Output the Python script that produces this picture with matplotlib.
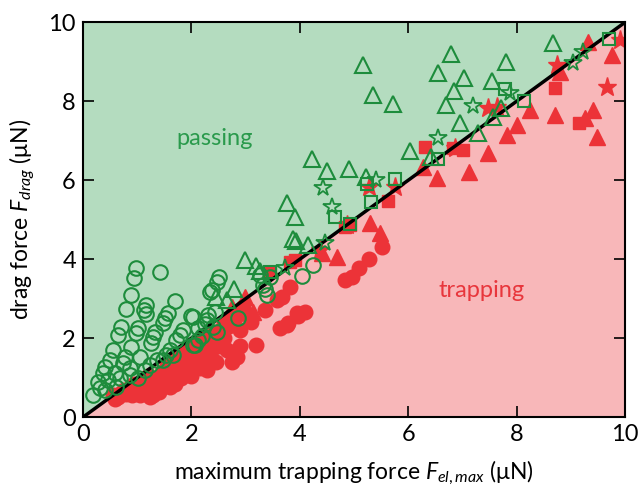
import numpy as np
import matplotlib.pyplot as plt

plt.rcParams["font.family"] = ["Lato", "DejaVu Sans"]
plt.rcParams["mathtext.fontset"] = "custom"
plt.rcParams["mathtext.it"] = "Lato:italic"
plt.rcParams["mathtext.rm"] = "Lato"

GREEN = "#1d8c3c"
RED = "#ec3338"
BG_GREEN = "#b4dcbf"
BG_RED = "#f8b7b9"

# trapping (red, filled)
red_circ_x = [0.55, 0.65, 0.7, 0.8, 0.81, 0.85, 0.9, 1.0, 1.0, 1.1, 1.15, 1.24, 1.2, 1.25, 1.3,
              1.35, 1.4, 1.45, 1.5, 1.55, 1.6, 1.6, 1.65, 1.7, 1.75, 1.8, 1.85, 1.9, 1.95, 2.0,
              2.03, 2.05, 2.1, 2.15, 2.2, 2.29, 2.25, 2.3, 2.35, 2.4, 2.5, 2.55, 2.6, 2.7, 2.75,
              2.84, 2.8, 2.9, 3.0, 3.1, 3.19, 3.36, 3.58, 3.63, 3.67, 3.76, 3.78, 3.82, 3.95, 3.97,
              4.1, 4.83, 4.96, 5.09, 5.28, 5.52,
              0.6, 0.75, 0.95, 1.05, 1.2, 1.3, 1.4, 1.55, 1.7, 1.75, 1.9, 2.0, 2.1, 2.2, 2.4,
              2.45, 2.6, 2.65, 2.95, 2.9]
red_circ_y = [0.55, 0.5, 0.62, 0.6, 0.61, 0.72, 0.55, 0.65, 0.8, 0.7, 0.9, 0.5, 0.6, 0.8, 1.0,
              0.75, 0.9, 1.1, 0.8, 1.0, 1.2, 0.76, 0.9, 1.1, 1.3, 1.0, 1.2, 1.4, 1.1, 1.3,
              1.62, 1.5, 1.6, 1.25, 1.45, 1.19, 1.7, 1.9, 1.55, 2.1, 1.8, 2.2, 2.0, 2.3, 1.39,
              1.52, 2.5, 2.2, 2.6, 2.4, 1.82, 2.71, 2.96, 2.25, 3.04, 2.33, 2.38, 3.29, 2.63, 2.56,
              2.66, 3.47, 3.54, 3.77, 4.0, 4.3,
              0.45, 0.7, 0.85, 0.55, 1.05, 0.55, 0.65, 1.35, 0.85, 1.55, 1.7, 1.05, 1.85, 2.0, 1.75,
              1.4, 2.4, 1.7, 2.8, 1.8]
red_tri_x = [9.32, 9.76, 8.8, 8.25, 8.71, 8.01, 7.82, 9.41, 9.26, 9.48, 7.47, 7.12, 6.53, 6.27,
             5.48, 5.3, 4.69, 4.41, 3.14, 2.99, 2.75]
red_tri_y = [9.49, 9.16, 8.73, 7.77, 7.65, 7.39, 7.14, 7.77, 7.57, 7.09, 6.68, 6.2, 6.05, 6.33,
             4.66, 4.91, 4.05, 4.15, 2.66, 3.04, 2.78]
red_sq_x = [8.71, 9.15, 6.31, 7.0, 6.83, 5.63, 4.83, 3.91, 3.45, 3.82, 4.93]
red_sq_y = [8.33, 7.44, 6.84, 6.76, 6.81, 5.47, 4.81, 3.97, 3.67, 3.92, 4.86]
red_star_x = [9.91, 9.67, 8.75, 7.47, 7.64, 6.86, 5.76, 5.28, 4.87, 4.37]
red_star_y = [9.54, 8.35, 8.91, 7.82, 7.85, 6.81, 5.82, 5.82, 4.86, 4.23]

# passing (green, open)
green_circ_x = [0.98, 1.42, 0.94, 0.89, 0.79, 1.70, 1.16, 1.13, 1.16, 1.57, 1.51, 1.48, 1.99,
                0.70, 1.01, 0.98, 0.65, 1.33, 1.29, 1.25, 1.85, 1.79, 1.72, 0.89, 0.55, 0.77,
                1.05, 1.61, 1.53, 1.48, 0.50, 0.74, 0.41, 0.87, 1.24, 0.37, 0.59, 0.87, 1.14,
                0.28, 0.46, 0.68, 0.18, 0.41, 0.61, 0.31, 2.12, 2.07, 2.51, 2.47, 2.38, 2.34,
                2.03, 2.31, 2.44, 2.29, 2.40, 2.12, 2.47, 2.86, 2.03, 1.66, 1.37, 1.01, 3.27,
                3.32, 3.36, 3.39, 3.45, 4.04, 4.24, 2.2, 2.25]
green_circ_y = [3.77, 3.67, 3.52, 3.09, 2.73, 2.94, 2.84, 2.71, 2.61, 2.63, 2.51, 2.38, 2.56,
                2.28, 2.25, 2.13, 2.08, 2.15, 2.03, 1.87, 2.20, 2.08, 1.95, 1.77, 1.70, 1.52,
                1.52, 1.70, 1.57, 1.44, 1.44, 1.37, 1.27, 1.24, 1.32, 1.11, 1.11, 1.06, 1.19,
                0.89, 0.94, 0.99, 0.56, 0.68, 0.76, 0.73, 1.95, 1.82, 3.54, 3.42, 3.22, 3.16,
                2.53, 2.58, 2.66, 2.46, 2.28, 2.25, 2.15, 2.51, 1.82, 1.57, 1.44, 0.99, 3.59,
                3.34, 3.24, 3.09, 3.55, 3.57, 3.85, 2.05, 2.36]
green_tri_x = [5.17, 6.79, 5.35, 5.72, 6.55, 7.03, 7.55, 6.85, 6.70, 6.96, 7.29, 6.03, 6.42,
               4.23, 4.50, 4.91, 5.22, 7.80, 8.67, 7.71, 7.56, 3.76, 3.91, 3.87, 3.93, 4.15,
               2.99, 3.19, 3.27, 2.79, 2.45, 2.66]
green_tri_y = [8.91, 9.19, 8.15, 7.92, 8.71, 8.58, 8.51, 8.25, 7.90, 7.44, 7.19, 6.73, 6.58,
               6.53, 6.23, 6.28, 6.08, 8.99, 9.47, 7.82, 7.59, 5.42, 5.06, 4.51, 4.46, 4.35,
               3.97, 3.82, 3.70, 3.24, 3.04, 2.96]
green_sq_x = [9.70, 7.79, 8.14, 6.55, 5.76, 5.24, 5.31, 4.65, 4.93, 3.45]
green_sq_y = [9.57, 8.30, 8.00, 6.53, 6.03, 5.90, 5.44, 5.06, 4.89, 3.67]
green_star_x = [7.20, 6.55, 5.41, 9.04, 9.23, 7.88, 4.43, 4.59, 4.46, 3.73]
green_star_y = [7.87, 7.06, 6.00, 8.96, 9.24, 8.20, 5.80, 5.32, 4.41, 3.77]

fig = plt.figure(figsize=(6.38, 4.92), dpi=100)
ax = fig.add_axes([0.130, 0.152, 0.850, 0.803])

# background regions split by the diagonal
edge = np.array([0, 10])
ax.fill_between(edge, edge, 10, color=BG_GREEN, lw=0, zorder=0)
ax.fill_between(edge, 0, edge, color=BG_RED, lw=0, zorder=0)

ax.plot(red_circ_x, red_circ_y, "o", ms=10.5, color=RED, mec=RED, zorder=2)
ax.plot(red_tri_x, red_tri_y, "^", ms=11.5, color=RED, mec=RED, zorder=2)
ax.plot(red_sq_x, red_sq_y, "s", ms=9, color=RED, mec=RED, zorder=2)
ax.plot(red_star_x, red_star_y, "*", ms=14, color=RED, mec=RED, zorder=2)

ax.plot(edge, edge, color="black", lw=2.5, zorder=3)

ax.plot(green_circ_x, green_circ_y, "o", ms=10.5, mfc="none", mec=GREEN, mew=1.5, zorder=4)
ax.plot(green_tri_x, green_tri_y, "^", ms=11.5, mfc="none", mec=GREEN, mew=1.5, zorder=4)
ax.plot(green_sq_x, green_sq_y, "s", ms=9, mfc="none", mec=GREEN, mew=1.5, zorder=4)
ax.plot(green_star_x, green_star_y, "*", ms=13, mfc="none", mec=GREEN, mew=1.3, zorder=4)

ax.text(2.43, 7.06, "passing", color="#2a9a4c", fontsize=17, ha="center", va="center")
ax.text(7.36, 3.2, "trapping", color="#e8363c", fontsize=17, ha="center", va="center")

ax.set_xlim(0, 10)
ax.set_ylim(0, 10)
ax.set_xticks([0, 2, 4, 6, 8, 10])
ax.set_yticks([0, 2, 4, 6, 8, 10])
ax.tick_params(direction="in", length=8, width=1.2, labelsize=17,
               top=True, right=True, pad=5)
for s in ax.spines.values():
    s.set_linewidth(1.5)
    s.set_zorder(5)

ax.set_xlabel(r"maximum trapping force $F_{el,max}$ (μN)", fontsize=16.5, labelpad=10)
ax.set_ylabel(r"drag force $F_{drag}$ (μN)", fontsize=16.5, labelpad=8)

fig.savefig("out.png", dpi=100)
